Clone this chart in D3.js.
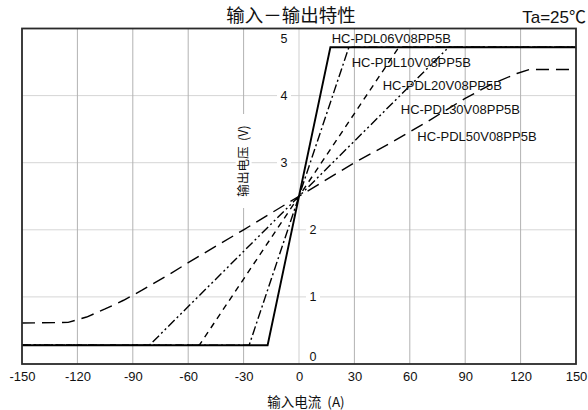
<!DOCTYPE html>
<html>
<head>
<meta charset="utf-8">
<script src="https://cdn.jsdelivr.net/npm/d3@7"></script>
<style>
    body { margin: 0; background: #fff; }
    text { font-family: "Liberation Sans", Arial, "Noto Sans CJK SC", sans-serif; fill: #111; }
    .cjk { font-family: "Noto Sans CJK SC", "Liberation Sans", sans-serif; white-space: pre; }
</style>
</head>
<body>
<div id="graph"></div>
<script>
"use strict";
// data
const xTicks = [-150, -120, -90, -60, -30, 0, 30, 60, 90, 120, 150];
const yTicks = [0, 1, 2, 3, 4, 5];
const models = ["HC-PDL06V08PP5B", "HC-PDL10V08PP5B", "HC-PDL20V08PP5B", "HC-PDL30V08PP5B", "HC-PDL50V08PP5B"];
// [input current A, output voltage V]
const pdl06 = [[-150, 0.28], [-17, 0.28], [17, 4.72], [150, 4.72]];
const pdl10 = [[-150, 0.28], [-27, 0.28], [27, 4.72], [150, 4.72]];
const pdl20 = [[-150, 0.28], [-54, 0.28], [54, 4.72], [150, 4.72]];
const pdl30 = [[-150, 0.28], [-81, 0.28], [81, 4.72], [150, 4.72]];
const pdl50 = [[-150, 0.61], [-125, 0.62], [-115, 0.7], [-105, 0.82], [-95, 0.95], [-85, 1.1],
               [-70, 1.34], [-60, 1.51], [-30, 2.0], [0, 2.5], [30, 3.0], [50, 3.3], [70, 3.62],
               [90, 3.96], [105, 4.18], [118, 4.33], [125, 4.39], [150, 4.39]];

(function() {
    const width = 588, height = 410;
    const plot = { left: 22, right: 576, top: 28.5, bottom: 364 };

    const series = [
        { values: pdl30, dash: "9,3,2,3,2,3", w: 1.4 },
        { values: pdl20, dash: "6,5", w: 1.4 },
        { values: pdl10, dash: "9,3,2,3", w: 1.4 },
        { values: pdl50, dash: "13,7", w: 1.4 },
        { values: pdl06, dash: null, w: 1.9 },
    ];
    // where each model name starts (A, V)
    const labelPos = [[17.7, 4.85], [28.5, 4.49], [45.3, 4.15], [55.1, 3.79], [64.1, 3.40]];

    const svg = d3.select("#graph").append("svg")
        .attr("width", width)
        .attr("height", height);

    const x = d3.scaleLinear().domain([-150, 150]).range([plot.left, plot.right]);
    const y = d3.scaleLinear().domain([0, 5]).range([plot.bottom, plot.top]);

    // grid
    svg.append("g").selectAll("line")
        .data(yTicks.slice(1, -1))
        .enter().append("line")
            .attr("x1", plot.left).attr("x2", plot.right)
            .attr("y1", d => y(d)).attr("y2", d => y(d))
            .attr("stroke", "#d6d6d6").attr("stroke-width", 1);
    svg.append("g").selectAll("line")
        .data(xTicks.slice(1, -1))
        .enter().append("line")
            .attr("x1", d => x(d)).attr("x2", d => x(d))
            .attr("y1", plot.top).attr("y2", plot.bottom)
            .attr("stroke", d => d == 0 ? "#cfcfcf" : "#b2b2b2").attr("stroke-width", 1);

    // y title on the -30 grid line, white box behind it
    const yTitle = svg.append("g")
        .attr("transform", "translate(" + x(-30) + "," + 161 + ") rotate(-90)");
    yTitle.append("rect")
        .attr("x", -47).attr("y", -8).attr("width", 94).attr("height", 16)
        .attr("fill", "#fff");
    yTitle.append("text")
        .attr("class", "cjk")
        .attr("text-anchor", "middle")
        .attr("dy", "0.35em")
        .style("font-size", "12.5px")
        .text("输出电压  (V)");

    // y tick labels inside the plot, next to the 0 A line
    const yLab = svg.append("g").selectAll("g")
        .data(yTicks)
        .enter().append("g")
            .attr("transform", function(d) {
                let dx = d >= 3 ? -15 : 14;
                let dy = d == 5 ? 10 : (d == 0 ? -8 : 0);
                return "translate(" + (x(0) + dx) + "," + (y(d) + dy) + ")";
            });
    yLab.append("rect")
        .attr("x", -7).attr("y", -7).attr("width", 14).attr("height", 14)
        .attr("fill", "#fff");
    yLab.append("text")
        .attr("text-anchor", "middle")
        .attr("dy", "0.36em")
        .style("font-size", "12.5px")
        .text(d => d);

    // curves
    const line = d3.line()
        .x(d => x(d[0]))
        .y(d => y(d[1]));
    svg.append("g").selectAll("path")
        .data(series)
        .enter().append("path")
            .attr("d", d => line(d.values))
            .attr("fill", "none")
            .attr("stroke", "#000")
            .attr("stroke-width", d => d.w)
            .attr("stroke-dasharray", d => d.dash);

    // model names
    svg.append("g").selectAll("text")
        .data(models)
        .enter().append("text")
            .attr("x", (d, i) => x(labelPos[i][0]))
            .attr("y", (d, i) => y(labelPos[i][1]))
            .attr("dy", "0.36em")
            .style("font-size", "13px")
            .text(d => d);

    // frame
    svg.append("rect")
        .attr("x", plot.left).attr("y", plot.top)
        .attr("width", plot.right - plot.left).attr("height", plot.bottom - plot.top)
        .attr("fill", "none")
        .attr("stroke", "#2a2a2a")
        .attr("stroke-width", 1.8);

    // x axis labels
    const xAxis = svg.append("g")
        .attr("transform", "translate(0," + plot.bottom + ")")
        .call(d3.axisBottom(x).tickValues(xTicks).tickSize(0).tickPadding(8).tickFormat(d => String(d)));
    xAxis.select(".domain").remove();
    xAxis.selectAll("text")
        .style("font-size", "13px")
        .style("font-family", "'Liberation Sans', Arial, sans-serif")
        .attr("fill", "#111");

    svg.append("text")
        .attr("class", "cjk")
        .attr("x", 306)
        .attr("y", 402)
        .attr("text-anchor", "middle")
        .attr("dy", "0.35em")
        .style("font-size", "13.5px")
        .text("输入电流  (A)");

    svg.append("text")
        .attr("class", "cjk")
        .attr("x", 291)
        .attr("y", 21.5)
        .attr("text-anchor", "middle")
        .style("font-size", "18.5px")
        .text("输入－输出特性");

    svg.append("text")
        .attr("x", 586)
        .attr("y", 23)
        .attr("text-anchor", "end")
        .style("font-size", "17px")
        .text("Ta=25℃");
})();
</script>
</body>
</html>
